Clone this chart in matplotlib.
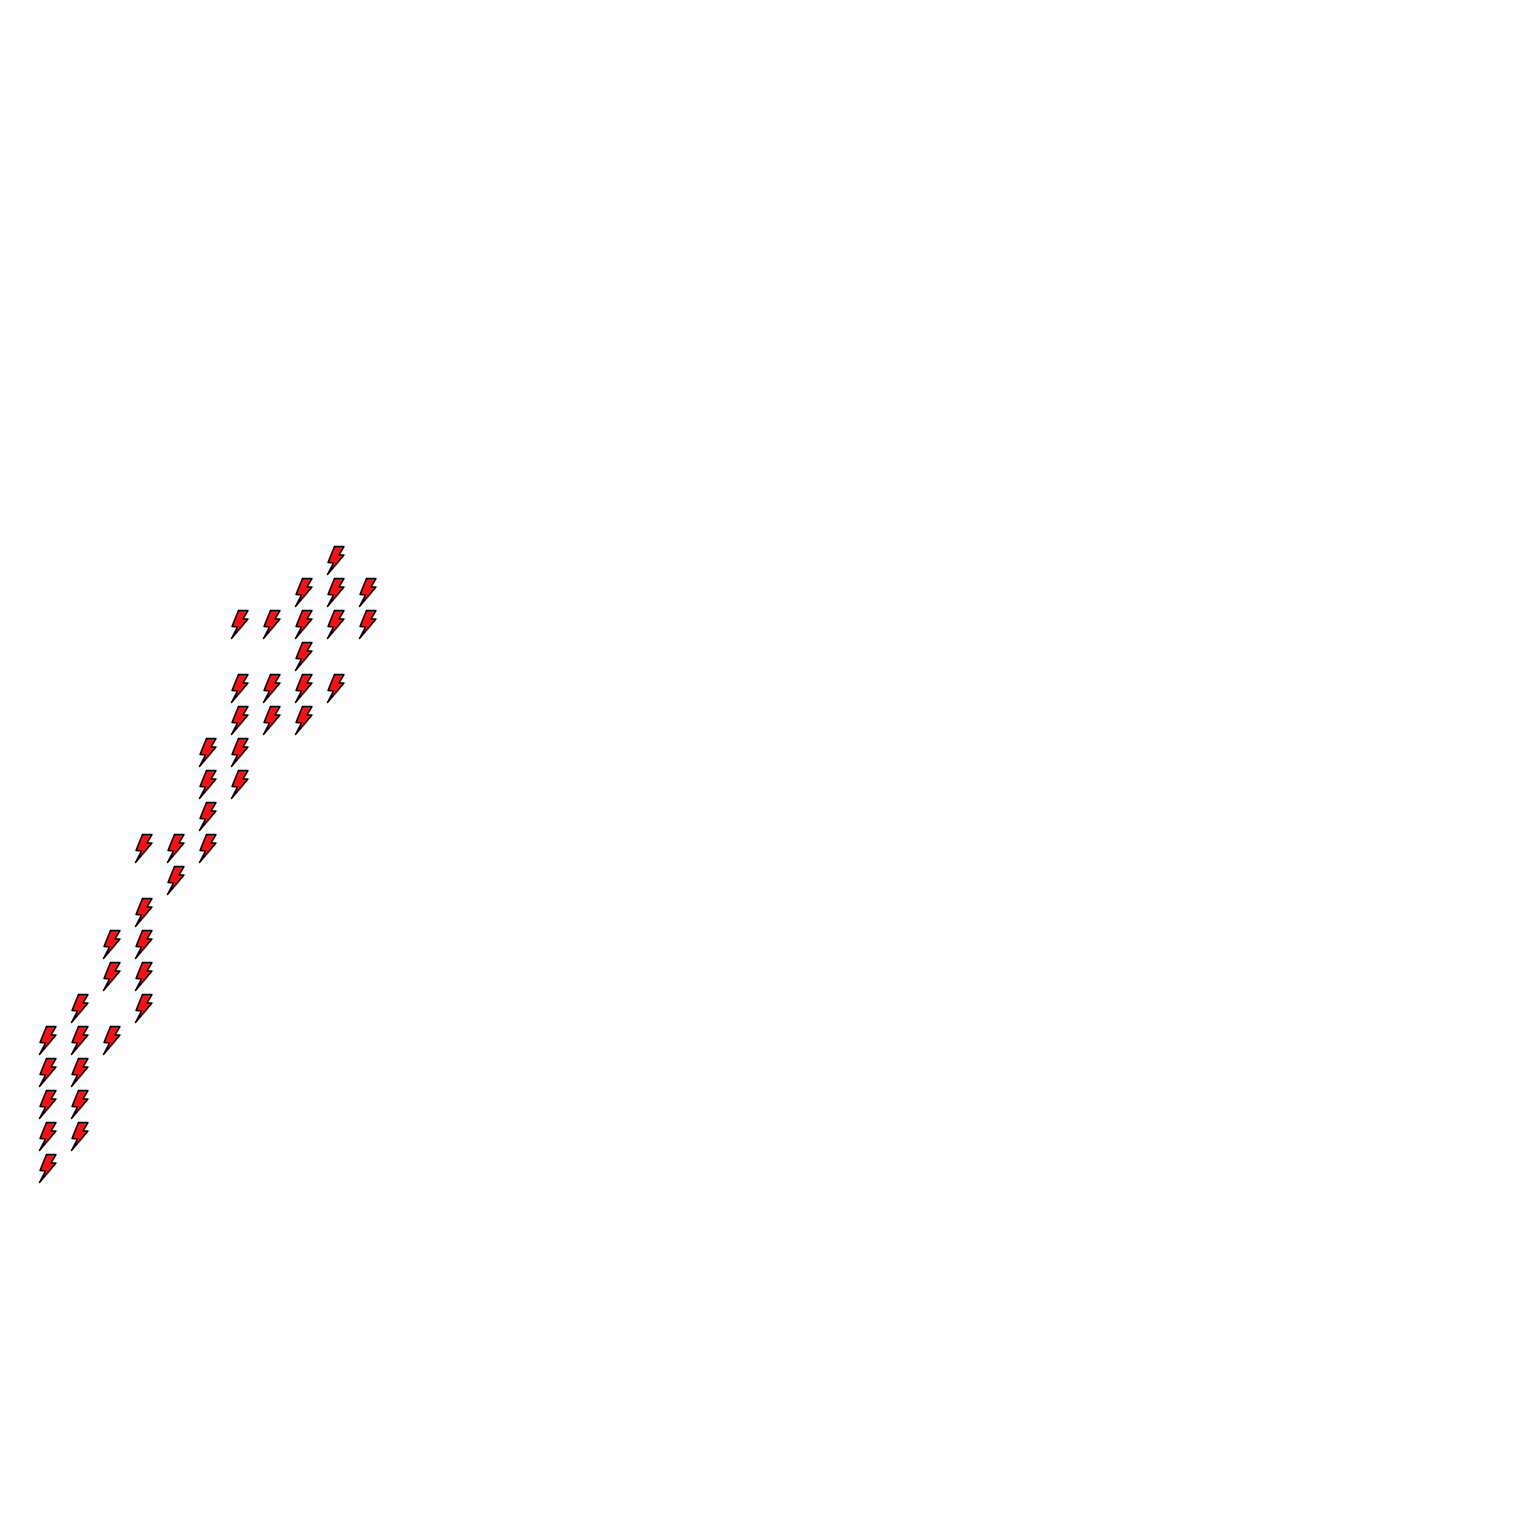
import matplotlib
matplotlib.use("Agg")
import matplotlib.pyplot as plt
from matplotlib.path import Path

# grid positions of the bolts, one list of rows per column
columns = [0, 1, 2, 3, 4, 5, 6, 7, 8, 9, 10]
rows = [
    [0, 1, 2, 3, 4],
    [1, 2, 3, 4, 5],
    [4, 6, 7],
    [5, 6, 7, 8, 10],
    [9, 10],
    [10, 11, 12, 13],
    [12, 13, 14, 15, 17],
    [14, 15, 17],
    [14, 15, 16, 17, 18],
    [15, 17, 18, 19],
    [17, 18],
]

xs = []
ys = []
for c, r in zip(columns, rows):
    for v in r:
        xs.append(c)
        ys.append(v)

# lightning bolt marker, y up
bolt = Path([(-2, 14), (7.5, 14), (2.5, 5.5), (7.5, 5.5), (-9, -14), (-3, -2.5), (-8.5, -2), (-2, 14)], closed=True)

fig = plt.figure(figsize=(15.36, 15.36), dpi=100)
ax = fig.add_axes([0, 0, 1, 1])
ax.scatter(xs, ys, marker=bolt, s=406, c="#ff0d1a", edgecolors="black", linewidths=1.1)
ax.set_xlim(-1.5, 46.5)
ax.set_ylim(-11.5, 36.5)
ax.axis("off")
fig.savefig("out.png", dpi=100, facecolor="white")
